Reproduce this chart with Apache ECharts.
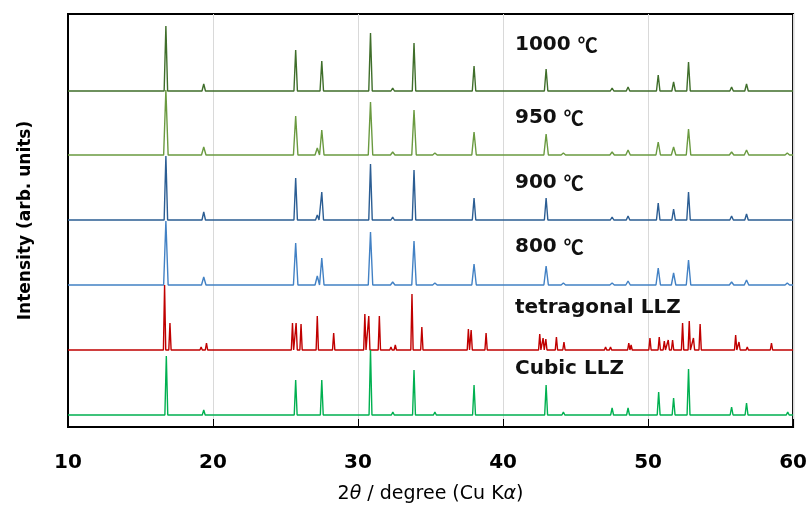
<!DOCTYPE html>
<html>
<head>
<meta charset="utf-8">
<script src="https://cdn.jsdelivr.net/npm/echarts@6/dist/echarts.min.js"></script>
<style>
  html, body { margin: 0; padding: 0; background: #fff; }
  #chart { width: 810px; height: 515px; }
</style>
</head>
<body>
<div id="chart"></div>
<script>
// series names (drawn as labels inside the plot)
const names = ['1000 ℃', '950 ℃', '900 ℃', '800 ℃', 'tetragonal LLZ', 'Cubic LLZ']
// vertical offset of each pattern (arb. units)
const offsets = [336, 272, 207, 142, 77, 12]

// peaks: [2θ, height above baseline]
const peaks1000 = [[16.75, 65], [19.36, 7], [25.7, 41], [27.5, 30], [30.86, 58], [32.39, 3], [33.86, 48],
  [35.3, 2], [38.0, 25], [42.97, 22], [44.16, 2], [47.52, 3], [48.62, 4], [50.7, 16], [51.76, 9],
  [52.79, 29], [55.76, 4], [56.79, 7], [59.6, 2]]
const peaks950 = [[16.75, 65], [19.36, 8], [25.7, 39], [27.19, 7], [27.5, 25], [30.86, 53], [32.39, 3],
  [33.86, 45], [35.3, 2], [38.0, 23], [42.97, 21], [44.16, 2], [47.52, 3], [48.62, 5], [50.7, 13],
  [51.76, 8], [52.79, 26], [55.76, 3], [56.79, 5], [59.6, 2]]
const peaks900 = [[16.75, 64], [19.36, 8], [25.7, 42], [27.19, 5], [27.5, 28], [30.86, 56], [32.39, 3],
  [33.86, 50], [35.3, 2], [38.0, 22], [42.97, 22], [44.16, 2], [47.52, 3], [48.62, 4], [50.7, 17],
  [51.76, 11], [52.79, 28], [55.76, 4], [56.79, 6], [59.6, 2]]
const peaks800 = [[16.75, 64], [19.36, 8], [25.7, 42], [27.19, 9], [27.5, 27], [30.86, 53], [32.39, 3],
  [33.86, 44], [35.3, 2], [38.0, 21], [42.97, 19], [44.16, 2], [47.52, 2], [48.62, 4], [50.7, 17],
  [51.76, 12], [52.79, 25], [55.76, 3], [56.79, 5], [59.6, 2]]
const peaksTetra = [[16.66, 65], [17.03, 27], [19.18, 3], [19.55, 7], [25.48, 27], [25.73, 27], [26.07, 26],
  [27.19, 34], [28.32, 17], [30.47, 36], [30.74, 34], [31.47, 34], [32.27, 3], [32.57, 5], [33.72, 56],
  [34.4, 23], [34.98, 2], [37.61, 21], [37.8, 20], [38.83, 17], [42.53, 16], [42.76, 12], [42.95, 11],
  [43.68, 13], [44.2, 8], [45.28, 2], [47.07, 3], [47.41, 3], [48.67, 7], [48.83, 5], [50.13, 12],
  [50.77, 13], [51.12, 9], [51.39, 10], [51.69, 10], [52.38, 27], [52.84, 29], [53.13, 12], [53.59, 26],
  [55.19, 2], [56.04, 15], [56.27, 8], [56.84, 3], [58.51, 7], [59.81, 2]]
const peaksCubic = [[16.78, 59], [19.36, 5], [25.7, 35], [27.5, 35], [30.86, 65], [32.4, 3], [33.86, 45],
  [35.3, 3], [38.0, 30], [42.97, 30], [44.16, 3], [47.52, 7], [48.62, 7], [50.73, 23], [51.76, 17],
  [52.79, 46], [55.76, 8], [56.79, 12], [59.63, 3]]

const peakSets = [peaks1000, peaks950, peaks900, peaks800, peaksTetra, peaksCubic]
const colors = ['#3f6e2a', '#6a9a40', '#2b5d93', '#4281c4', '#c00000', '#00b050']
// half-width of the drawn peak foot, per pattern
const halfWidth = [0.12, 0.155, 0.12, 0.155, 0.08, 0.1]

// 组装折线数据
function buildLine (list, off, w) {
    let pts = [[10, off]]
    list.forEach(p => {
        pts.push([p[0] - w, off])
        pts.push([p[0], off + p[1]])
        pts.push([p[0] + w, off])
    })
    pts.push([60, off])
    return pts
}

const labelTops = [35, 108, 173, 237, 298, 359]

let chart = echarts.init(document.getElementById('chart'))
chart.setOption({
    animation: false,
    grid: {
        left: 68,
        right: 14,
        top: 14,
        bottom: 88,
        show: true,
        borderColor: '#000',
        borderWidth: 2
    },
    xAxis: {
        type: 'value',
        min: 10,
        max: 60,
        interval: 10,
        name: '2{i|θ} / degree (Cu K{i|α})',
        nameLocation: 'middle',
        nameGap: 58,
        nameTextStyle: {
            color: '#000',
            fontSize: 19,
            fontFamily: 'DejaVu Sans',
            rich: {
                i: { fontStyle: 'italic', fontSize: 19, fontFamily: 'DejaVu Sans', color: '#000' }
            }
        },
        axisLine: { lineStyle: { color: '#000', width: 2 } },
        axisTick: { inside: true, length: 8, lineStyle: { color: '#000', width: 1 } },
        axisLabel: {
            color: '#000',
            fontSize: 20,
            fontWeight: 'bold',
            fontFamily: 'DejaVu Sans',
            margin: 26
        },
        splitLine: { show: true, lineStyle: { color: '#d9d9d9', width: 1 } }
    },
    yAxis: {
        type: 'value',
        min: 0,
        max: 413,
        name: 'Intensity (arb. units)',
        nameLocation: 'middle',
        nameGap: 34,
        nameTextStyle: {
            color: '#000',
            fontSize: 17,
            fontWeight: 'bold',
            fontFamily: 'DejaVu Sans'
        },
        axisLine: { show: true, lineStyle: { color: '#000', width: 2 } },
        axisTick: { show: false },
        axisLabel: { show: false },
        splitLine: { show: false }
    },
    graphic: names.map((n, i) => ({
        type: 'text',
        left: 515,
        top: labelTops[i],
        z: 100,
        style: {
            text: n.replace('℃', '{c|℃}'),
            fill: '#111',
            font: 'bold 20px "DejaVu Sans"',
            rich: {
                c: { fontFamily: 'Noto Sans CJK JP', fontWeight: 'bold', fontSize: 20, fill: '#111' }
            }
        }
    })),
    series: peakSets.map((list, i) => ({
        name: names[i],
        type: 'line',
        showSymbol: false,
        symbol: 'none',
        data: buildLine(list, offsets[i], halfWidth[i]),
        lineStyle: { color: colors[i], width: 1.4 },
        z: 2 + i
    }))
})
</script>
</body>
</html>
